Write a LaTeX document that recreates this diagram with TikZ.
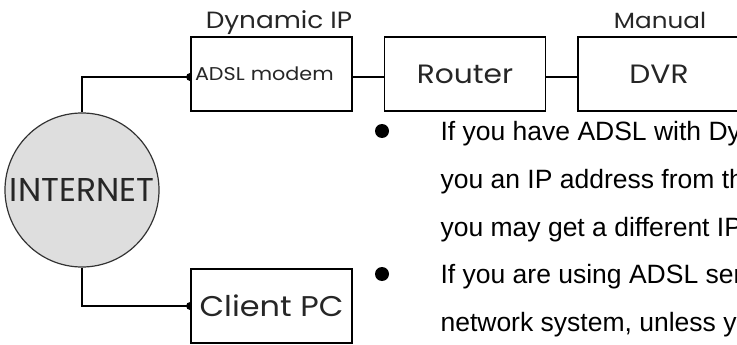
\documentclass[tikz,border=0pt]{standalone}
\usepackage{fontspec}
\setmainfont{Liberation Sans}
\newfontfamily\gothic[FakeStretch=1.12]{Poppins}
\newfontfamily\gothicplain{Poppins}
\usetikzlibrary{positioning, calc}

\tikzset{
	unit/.style={draw=black, line width=1.8pt, fill=white, rectangle, minimum width=161pt,
	minimum height=74pt, inner sep=0pt, text=black!85, font=\gothic\fontsize{26.5}{26.5}\selectfont},
	wire/.style={line width=1.8pt},
	tag/.style={anchor=base, text=black!85, font=\gothic\fontsize{22}{22}\selectfont},
	bodyline/.style={anchor=base west, font=\fontsize{26.5}{30}\selectfont},
	bulletdot/.style={circle, fill=black, minimum size=14pt, inner sep=0pt}
}

\begin{document}
\begin{tikzpicture}[x=1pt, y=-1pt]
		
		%Frame
		\useasboundingbox (0,0) rectangle (737,345);
		\clip (0,0) rectangle (737,345);
		
		%Internet
		\node (internet) at (82,190) [circle, draw=black!80, line width=1.2pt, fill=black!13,
		minimum size=154pt, inner sep=0pt, text=black!85, font=\gothicplain\fontsize{33}{33}\selectfont]{INTERNET};
		
		%Units
		\node (modem) at (271.5,74) [unit, text width=153pt, align=left, inner xsep=4pt,
		font=\gothic\fontsize{18.5}{18.5}\selectfont]{ADSL modem};
		\node (router) at (465,74) [unit]{Router};
		\node (dvr) at (659,74) [unit, minimum width=162pt]{DVR};
		\node (client) at (271.5,306) [unit, font=\gothic\fontsize{28.5}{28.5}\selectfont]{Client PC};
		
		%Tags
		\node (dynamic) at (279,29) [tag, font=\gothic\fontsize{23.5}{23.5}\selectfont]{Dynamic IP};
		\node (manual) at (660,29) [tag]{Manual};
		
		%Links
		\draw[wire] ([yshift=-3pt]modem.east) -- ([yshift=-3pt]router.west);
		\draw[wire] ([yshift=-3pt]router.east) -- ([yshift=-3pt]dvr.west);
		\draw[wire] ([yshift=-3pt]modem.west) -| (internet.north);
		\draw[wire] (internet.south) |- (client.west);
		
		%Joints
		\fill ([yshift=-3pt]modem.west) ++(0,-4) arc[start angle=90, end angle=270, radius=4pt] -- cycle;
		\fill (client.west) ++(0,-4) arc[start angle=90, end angle=270, radius=4pt] -- cycle;
		
		%Notes
		\node (dotA) at (382,131) [bulletdot]{};
		\node (lineA) at (437,140) [bodyline]{If you have ADSL with Dy};
		\node (lineB) at (437,188) [bodyline]{you an IP address from th};
		\node (lineC) at (437,236) [bodyline]{you may get a different IP};
		\node (dotB) at (382,274) [bulletdot]{};
		\node (lineD) at (437,283) [bodyline]{If you are using ADSL ser};
		\node (lineE) at (437,331) [bodyline]{network system, unless y};
		
\end{tikzpicture}
\end{document}
